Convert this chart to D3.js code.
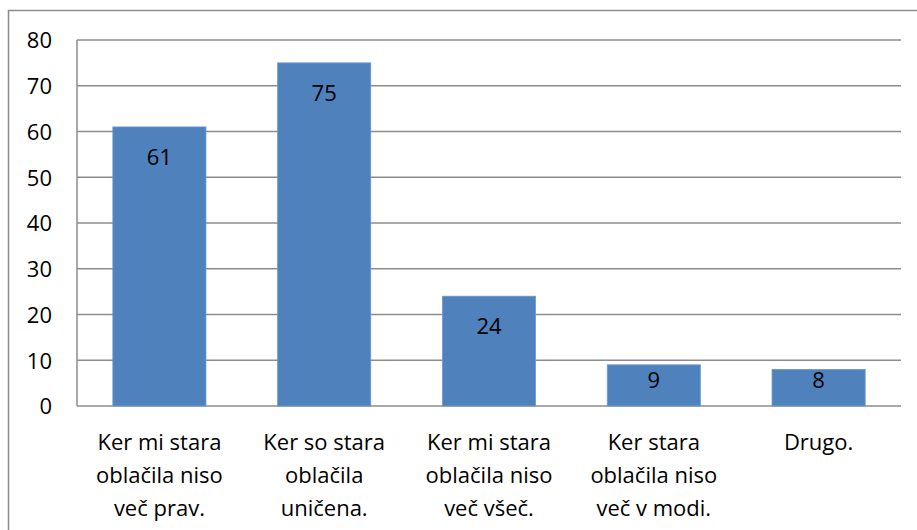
<!DOCTYPE html>
<meta charset="utf-8">
<script src="https://d3js.org/d3.v7.min.js"></script>
<style>
  body { margin: 0; background: #fff; }
  text { font-family: "Open Sans", "Liberation Sans", sans-serif; fill: #000; }
</style>
<div id="my_dataviz"></div>
<script>

// data
var categories = [
  "Ker mi stara\noblačila niso\nveč prav.",
  "Ker so stara\noblačila\nuničena.",
  "Ker mi stara\noblačila niso\nveč všeč.",
  "Ker stara\noblačila niso\nveč v modi.",
  "Drugo."
];
var values = [61, 75, 24, 9, 8];
var yTicks = [0, 10, 20, 30, 40, 50, 60, 70, 80];

var W = 917, H = 530;
var margin = {top: 40, right: 16, bottom: 124, left: 77};
var width = W - margin.left - margin.right,   // 824
    height = H - margin.top - margin.bottom;  // 366

var svg = d3.select("#my_dataviz")
  .append("svg")
    .attr("width", W)
    .attr("height", H);

// chart frame
svg.append("rect")
  .attr("x", 8.5).attr("y", 10.5)
  .attr("width", 940).attr("height", 560)
  .style("fill", "none")
  .style("stroke", "#8c8c8c")
  .style("stroke-width", 1.5);

var g = svg.append("g")
  .attr("transform", "translate(" + margin.left + "," + margin.top + ")");

var x = d3.scaleBand()
  .domain(categories)
  .range([0, width])
  .paddingInner(0.435)
  .paddingOuter(0.2175);

var y = d3.scaleLinear()
  .domain([0, 80])
  .range([height, 0]);

// gridlines
g.selectAll(".grid")
  .data(yTicks)
  .enter()
  .append("line")
    .attr("x1", 0).attr("x2", width)
    .attr("y1", function(d) { return y(d); })
    .attr("y2", function(d) { return y(d); })
    .style("stroke", "#8c8c8c")
    .style("stroke-width", 1.5);

// left axis line
g.append("line")
  .attr("x1", 0).attr("x2", 0)
  .attr("y1", y(80)).attr("y2", y(0))
  .style("stroke", "#8c8c8c")
  .style("stroke-width", 1.5);

// y axis labels
var yAxis = g.append("g")
  .call(d3.axisLeft(y).tickValues(yTicks).tickSize(0).tickPadding(25));
yAxis.select(".domain").remove();
yAxis.selectAll("text")
  .style("font-family", "'Open Sans', 'Liberation Sans', sans-serif")
  .style("font-size", "22px")
  .attr("dy", "0.36em");

// bars
g.selectAll(".bar")
  .data(values)
  .enter()
  .append("rect")
    .attr("x", function(d, i) { return x(categories[i]); })
    .attr("y", function(d) { return y(d); })
    .attr("width", x.bandwidth())
    .attr("height", function(d) { return y(0) - y(d); })
    .style("fill", "#4f81bd")
    .style("stroke", "#6f98cc")
    .style("stroke-width", 0.8);

// value labels (inside end)
g.selectAll(".val")
  .data(values)
  .enter()
  .append("text")
    .attr("x", function(d, i) { return x(categories[i]) + x.bandwidth() / 2; })
    .attr("y", function(d) { return Math.min(y(d) + 38, y(0) - 18); })
    .attr("text-anchor", "middle")
    .style("font-size", "22px")
    .text(function(d) { return d; });

// category labels
var xAxis = g.append("g")
  .attr("transform", "translate(0," + height + ")");
categories.forEach(function(c) {
  var t = xAxis.append("text")
    .attr("text-anchor", "middle")
    .attr("x", x(c) + x.bandwidth() / 2)
    .style("font-size", "22px");
  c.split("\n").forEach(function(line, j) {
    t.append("tspan")
      .attr("x", x(c) + x.bandwidth() / 2)
      .attr("y", 44 + j * 33)
      .text(line);
  });
});

</script>
